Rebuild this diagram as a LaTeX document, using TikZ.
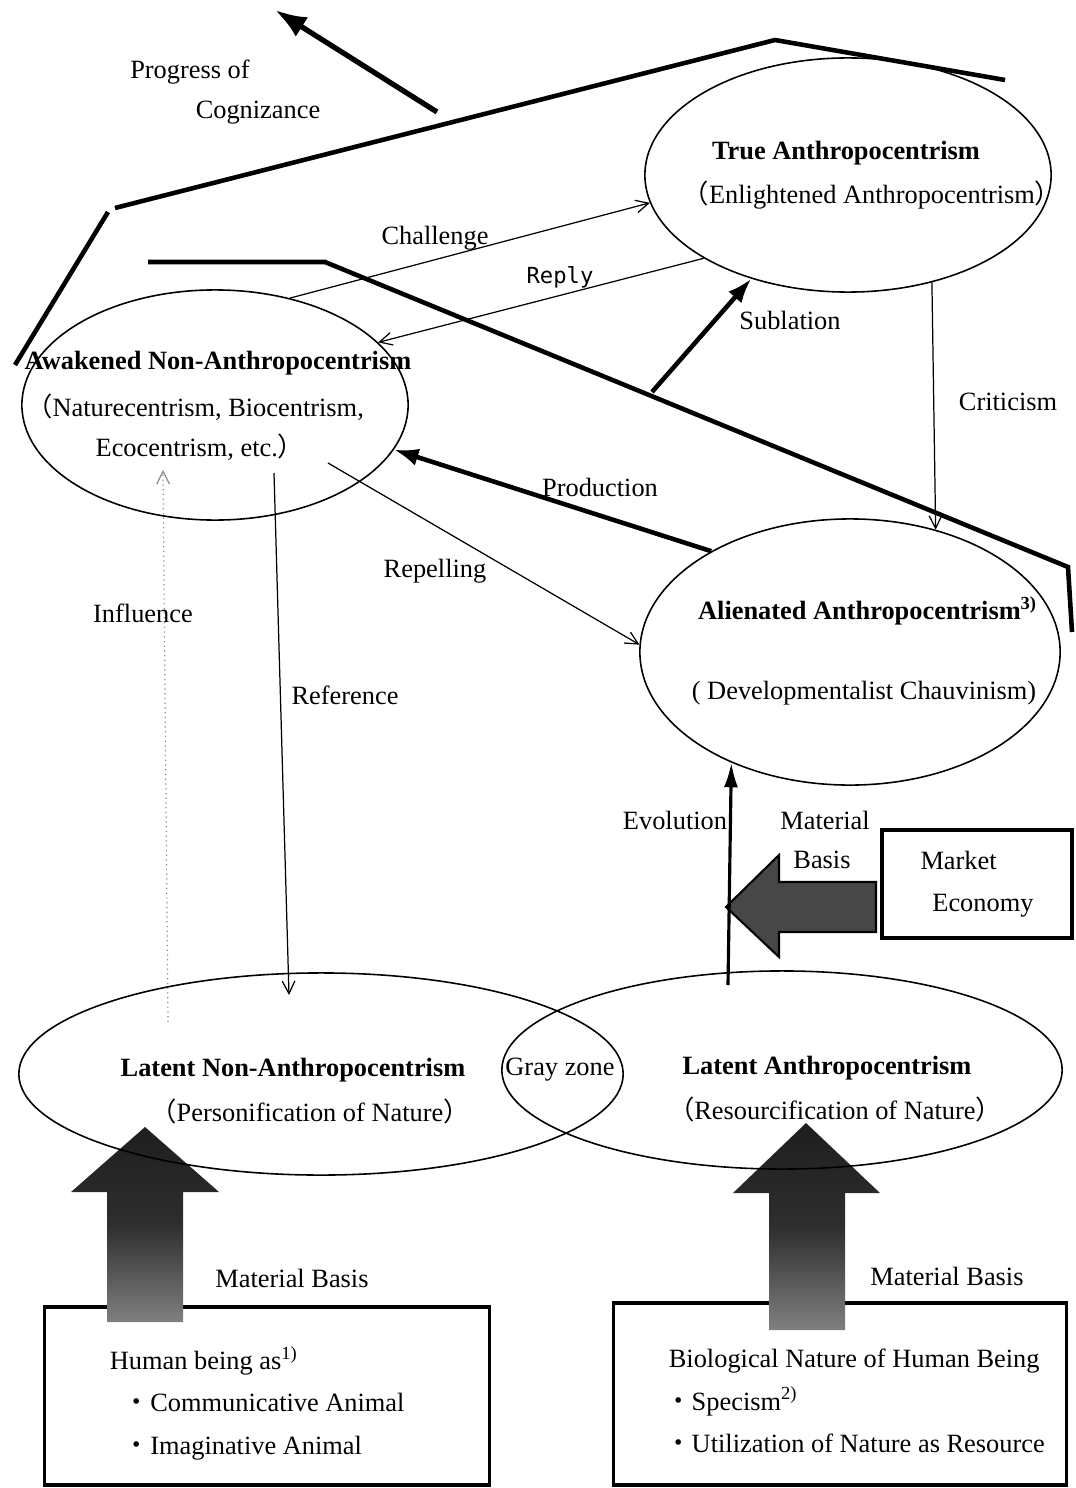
\documentclass[tikz,border=0pt]{standalone}
\usepackage{fontspec}
\setmainfont{Liberation Serif}
\setmonofont{DejaVu Sans Mono}
\newfontfamily\cjk{Noto Sans CJK JP}
\usetikzlibrary{arrows.meta,calc,shapes.geometric}

\newcommand{\diagfont}{\fontsize{7.5}{12}\selectfont}

\tikzset{
  oval/.style={ellipse, draw, line width=0.45pt, inner sep=0pt},
  boxframe/.style={draw, line width=1pt, inner sep=0pt, align=left},
  lbl/.style={inner sep=1pt, font=\diagfont},
  head/.style={inner sep=1pt, font=\diagfont\bfseries},
  thinarrow/.style={line width=0.35pt, -{Straight Barb[length=3.6pt,width=3.6pt]}},
  thickarrow/.style={line width=1.3pt, -{Latex[length=7pt,width=5pt]}},
  ridge/.style={line width=1.3pt, line join=miter},
  block/.style={top color=black!88, bottom color=black!50, middle color=black!82, draw=none},
}

\begin{document}
\begin{tikzpicture}[x=0.01cm, y=-0.01cm, font=\diagfont]
	\useasboundingbox (0,0) rectangle (1075,1488);

	% Bases (boxes)
	\node[boxframe, minimum width=1.9cm, minimum height=1.08cm] (market) at (977,884)
		{Market\\\hspace*{0.45em}Economy};
	\node[boxframe, minimum width=4.45cm, minimum height=1.78cm] (human) at (267,1396) {};
	\node[lbl, align=left, anchor=west] (humantxt) at ([xshift=0.63cm, yshift=-0.07cm]human.west)
		{Human being as\textsuperscript{1)}\\
		 \hspace*{4pt}{\cjk ・}Communicative Animal\\
		 \hspace*{4pt}{\cjk ・}Imaginative Animal};
	\node[boxframe, minimum width=4.53cm, minimum height=1.82cm] (bio) at (840,1394) {};
	\node[lbl, align=left, anchor=west] (biotxt) at ([xshift=0.53cm, yshift=-0.07cm]bio.west)
		{Biological Nature of Human Being\\
		 \hspace*{-1pt}{\cjk ・}Specism\textsuperscript{2)}\\
		 \hspace*{-1pt}{\cjk ・}Utilization of Nature as Resource};

	% Material basis arrows
	\shade[block] (107,1322) -- (107,1192) -- (71,1192) -- (145,1127) -- (219,1192) -- (183,1192) -- (183,1322) -- cycle;
	\shade[block] (769,1330) -- (769,1193) -- (733,1193) -- (806,1123) -- (880,1193) -- (845,1193) -- (845,1330) -- cycle;
	\filldraw[fill=black!72, draw=black, line width=0.6pt]
		(876,882) -- (779,882) -- (779,855) -- (726,907) -- (779,957) -- (779,932) -- (876,932) -- cycle;

	% Positions (ellipses)
	\node[oval, minimum width=4.06cm, minimum height=2.34cm] (true) at (848,175) {};
	\node[oval, minimum width=3.86cm, minimum height=2.30cm] (awake) at (215,405) {};
	\node[oval, minimum width=4.20cm, minimum height=2.66cm] (alien) at (850,652) {};
	\node[oval, minimum width=6.04cm, minimum height=2.02cm] (latnon) at (321,1074) {};
	\node[oval, minimum width=5.60cm, minimum height=1.98cm] (latant) at (782,1070) {};

	\node[head] (truetitle) at (846,153) {True Anthropocentrism};
	\node[lbl] (truesub) at (872,195) {{\cjk （}Enlightened Anthropocentrism{\cjk ）}};
	\node[head] (awaketitle) at (218,363) {Awakened Non-Anthropocentrism};
	\node[lbl] (awakesub) at (195,407) {{\cjk （}Naturecentrism, Biocentrism,};
	\node[lbl] (awakesubb) at (200,447) {Ecocentrism, etc.{\cjk ）}};
	\node[head] (alientitle) at (868,611) {Alienated Anthropocentrism\textsuperscript{3)}};
	\node[lbl] (aliensub) at (864,693) {( Developmentalist Chauvinism)};
	\node[head] (latnontitle) at (293,1070) {Latent Non-Anthropocentrism};
	\node[lbl] (latnonsub) at (310,1111) {{\cjk （}Personification of Nature{\cjk ）}};
	\node[lbl] (gray) at (560,1070) {Gray zone};
	\node[head] (latanttitle) at (827,1068) {Latent Anthropocentrism};
	\node[lbl] (latantsub) at (835,1109) {{\cjk （}Resourcification of Nature{\cjk ）}};

	% Progress of cognizance
	\draw[ridge] (15,365) -- (108,212);
	\draw[ridge] (115,208) -- (775,40) -- (1005,80);
	\draw[ridge] (148,262) -- (325,262) -- (1068,567) -- (1072,632);
	\coordinate (pstart) at (437,112);
	\coordinate (ptip) at (275,10);
	\draw[line width=1.5pt, -{Latex[length=9pt,width=6.5pt]}] (pstart) -- (ptip);
	\node[lbl] (progtxt) at (190,72) {Progress of};
	\node[lbl] (cogtxt) at (258,113) {Cognizance};

	% Relations
	\draw[thinarrow] (awake.55) -- (true.188);
	\draw[thinarrow] (true.210) -- (awake.21);
	\draw[thinarrow] (true.308) -- (alien.55);
	\draw[thinarrow] ($(awake)+(113,58)$) -- (alien.178);
	\draw[thinarrow] ($(awake)+(59,68)$) -- ($(latnon)+(-32,-79)$);
	\draw[thinarrow, black!45, densely dotted] ($(latnon)+(-153,-52)$) -- ($(awake)+(-52,65)$);
	\coordinate (subbase) at (652,392);
	\draw[thickarrow] (subbase) -- (true.227);
	\draw[thickarrow] (alien.144) -- (awake.346);
	\draw[line width=0.9pt, -{Latex[length=7pt,width=4pt]}] ($(latant)+(-54,-85)$) -- (alien.223);

	\node[lbl] (chal) at (435,238) {Challenge};
	\node[lbl, font=\fontsize{6.3}{8}\selectfont\ttfamily] (reply) at (560,277) {Reply};
	\node[lbl] (subl) at (790,320) {Sublation};
	\node[lbl] (crit) at (1008,402) {Criticism};
	\node[lbl] (prod) at (600,487) {Production};
	\node[lbl] (repel) at (435,571) {Repelling};
	\node[lbl] (infl) at (143,613) {Influence};
	\node[lbl] (refr) at (345,695) {Reference};
	\node[lbl] (evol) at (675,820) {Evolution};
	\node[lbl] (matl) at (825,820) {Material};
	\node[lbl] (basis) at (822,860) {Basis};
	\node[lbl] (mbl) at (292,1278) {Material Basis};
	\node[lbl] (mbr) at (947,1276) {Material Basis};
\end{tikzpicture}
\end{document}
